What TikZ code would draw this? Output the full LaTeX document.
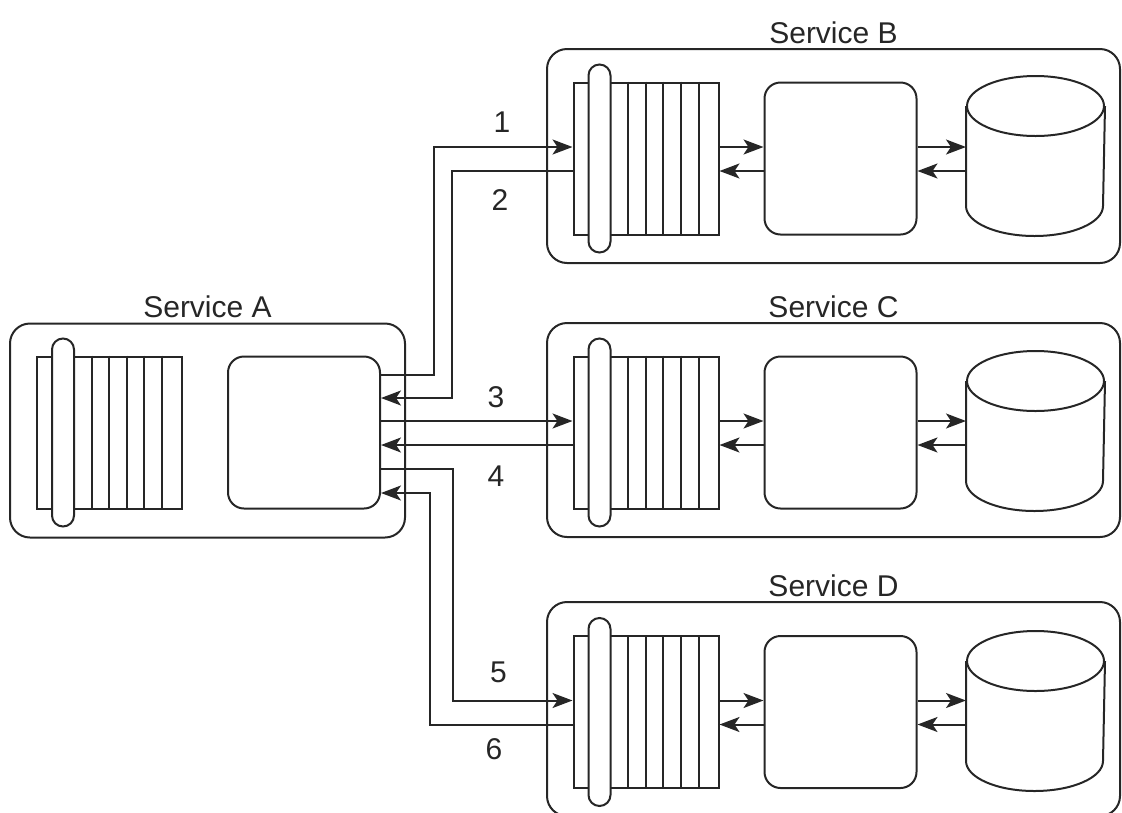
\documentclass[tikz,border=0pt]{standalone}
\usepackage{fontspec}
\setmainfont{Liberation Sans}
\usetikzlibrary{arrows.meta}

\tikzset{
  svc/.style={draw, rounded corners=20pt, minimum height=214pt, inner sep=0pt, label distance=8pt},
  queue/.style={draw, minimum width=145pt, minimum height=152pt, inner sep=0pt},
  pill/.style={draw, fill=white, rounded corners=11pt, minimum width=22pt, minimum height=188pt, inner sep=0pt},
  proc/.style={draw, rounded corners=16pt, minimum width=152pt, minimum height=152pt, inner sep=0pt},
  db/.style={minimum width=137pt, minimum height=158pt, inner sep=0pt},
  conn/.style={-{Stealth[length=20pt,width=15pt,inset=5pt]}},
}

% a queue: box, cell lines, and the pill over them
\newcommand{\msgqueue}[3]{%
  \node[queue] (#1) at (#2,#3) {};
  \foreach \k in {1,...,5}
    \draw ([xshift=38pt+17.6pt*\k]#1.north west) -- ([xshift=38pt+17.6pt*\k]#1.south west);
  \node[pill] (#1pill) at ([xshift=27pt]#1.west) {};
}

% a database: cylinder drawn round a plain node
\newcommand{\database}[3]{%
  \node[db] (#1) at (#2,#3) {};
  \draw ([yshift=-30pt]#1.north) ellipse [x radius=68.5pt, y radius=30pt];
  \draw ([yshift=-30pt]#1.north west) -- ([yshift=30pt]#1.south west)
    arc [start angle=180, end angle=360, x radius=68.5pt, y radius=30pt]
    -- ([yshift=-30pt]#1.north east);
}

\begin{document}
\begin{tikzpicture}[x=1pt, y=-1pt, line width=2pt, color=black!85,
  every node/.style={font=\fontsize{30}{36}\selectfont}]
\useasboundingbox (0,0) rectangle (1122,812);

\node[svc, minimum width=395pt, label=above:Service A] (svcA) at (207.5,430.5) {};
\node[svc, minimum width=573pt, label=above:Service B] (svcB) at (833.5,156) {};
\node[svc, minimum width=573pt, label=above:Service C] (svcC) at (833.5,430) {};
\node[svc, minimum width=573pt, label=above:Service D] (svcD) at (833.5,709) {};

\msgqueue{qA}{109.5}{432.5}
\msgqueue{qB}{646}{158.5}
\msgqueue{qC}{646}{432.5}
\msgqueue{qD}{646}{712}

\node[proc] (procA) at (304,432.5) {};
\node[proc] (procB) at (840.5,158.5) {};
\node[proc] (procC) at (840.5,432.5) {};
\node[proc] (procD) at (840.5,712) {};

\database{dbB}{1035.5}{156}
\database{dbC}{1035.5}{431}
\database{dbD}{1035.5}{711}

\foreach \s in {B,C,D}{
  \draw[conn] ([yshift=11.5pt]q\s.east) -- ([yshift=11.5pt]proc\s.west);
  \draw[conn] ([yshift=-12.5pt]proc\s.west) -- ([yshift=-12.5pt]q\s.east);
  \draw[conn] ([yshift=11.5pt]proc\s.east) -- ([yshift=11.5pt]proc\s.east -| db\s.west);
  \draw[conn] ([yshift=-12.5pt]proc\s.east -| db\s.west) -- ([yshift=-12.5pt]proc\s.east);
}

\draw[conn] ([yshift=57.5pt]procA.east) -- ++(53,0) |- node[pos=0.745, above=10pt] {1} ([yshift=11.5pt]qB.west);
\draw[conn] ([yshift=-12.5pt]qB.west) -- node[pos=0.6, below=14pt] {2} ++(-121,0) |- ([yshift=34.5pt]procA.east);
\draw[conn] ([yshift=11.5pt]procA.east) -- node[pos=0.6, above=9pt] {3} ([yshift=11.5pt]qC.west);
\draw[conn] ([yshift=-12.5pt]qC.west) -- node[pos=0.4, below=17pt] {4} ([yshift=-12.5pt]procA.east);
\draw[conn] ([yshift=-36.5pt]procA.east) -- ++(72,0) |- node[pos=0.69, above=13pt] {5} ([yshift=11.5pt]qD.west);
\draw[conn] ([yshift=-12.5pt]qD.west) -- node[pos=0.55, below=10pt] {6} ++(-143,0) |- ([yshift=-60.5pt]procA.east);

\end{tikzpicture}
\end{document}
